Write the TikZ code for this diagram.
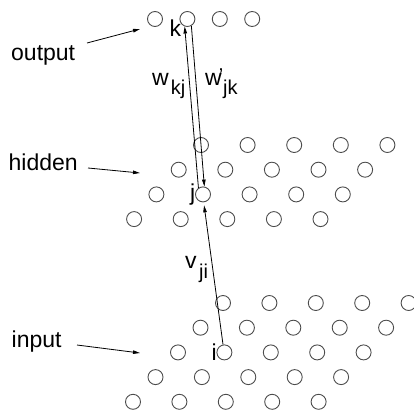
\documentclass[tikz,border=0pt]{standalone}
\usepackage{fontspec}
\setmainfont{Liberation Sans}
\usetikzlibrary{arrows.meta}
\begin{document}
\begin{tikzpicture}[x=1pt,y=-1pt,
  unit/.style={circle,draw=black!70,line width=0.9pt,minimum size=15pt,inner sep=0pt},
  lbl/.style={anchor=base west,inner sep=0pt,font=\fontsize{23}{27}\selectfont},
  sub/.style={anchor=base west,inner sep=0pt,font=\fontsize{20}{24}\selectfont},
  conn/.style={line width=0.8pt,-{Triangle[length=7pt,width=3.5pt]}}]
\useasboundingbox (0,0) rectangle (414,412);
% output layer
\foreach \c in {0,...,3} \node[unit] (o\c) at ({155+32.4*\c},19) {};
% hidden layer
\foreach \r in {0,...,3} \foreach \c in {0,...,4}
  \node[unit] (h\r\c) at ({201-22.3*\r+46.6*\c},{145+24.7*\r}) {};
% input layer
\foreach \r in {0,...,4} \foreach \c in {0,...,4}
  \node[unit] (n\r\c) at ({223-22.5*\r+46.4*\c},{303+24.7*\r}) {};
% layer labels
\node[lbl] (outlbl) at (11,60) {output};
\node[lbl] (hidlbl) at (8.5,170) {hidden};
\node[lbl] (inlbl) at (11.5,347) {input};
\coordinate (otail) at (87,43); \coordinate (ohead) at (140,29);
\coordinate (htail) at (88,168); \coordinate (hhead) at (140,173);
\coordinate (itail) at (77,345); \coordinate (ihead) at (140,353);
\draw[conn] (otail) -- (ohead);
\draw[conn] (htail) -- (hhead);
\draw[conn] (itail) -- (ihead);
% unit labels
\node[lbl] (kl) at (169.5,37) {k};
\node[lbl] (jl) at (190,200) {j};
\node[lbl] (il) at (211.5,360) {i};
% weights
\draw[conn] (h21.125) -- (o1.250);
\draw[conn] (o1.300) -- (h21.80);
\draw[conn,shorten >=3pt] (n21.100) -- (h21.275);
\node[lbl] (wkj) at (152,85) {w};
\node[sub] (wkjs) at (170.7,94) {kj};
\node[lbl] (wjk) at (205,85) {w\kern-3pt\raisebox{3pt}{\fontsize{20}{24}\selectfont'}};
\node[sub] (wjks) at (223,94) {jk};
\node[lbl] (vji) at (185,268) {v};
\node[sub] (vjis) at (199,278) {ji};
\end{tikzpicture}
\end{document}
